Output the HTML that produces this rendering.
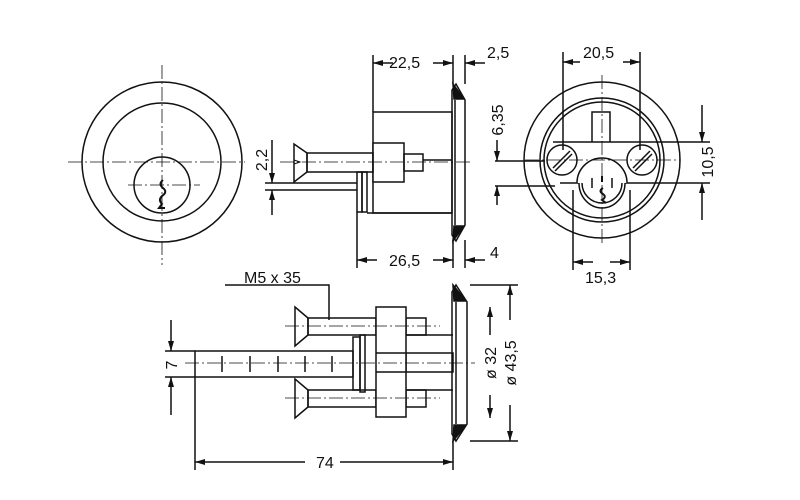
<!DOCTYPE html>
<html><head><meta charset="utf-8"><style>
html,body{margin:0;padding:0;background:#fff;}
svg{display:block;}
text{font-family:"Liberation Sans",sans-serif;font-size:16px;fill:#111;}
</style></head><body>
<svg width="800" height="500" viewBox="0 0 800 500" xmlns="http://www.w3.org/2000/svg">
<defs>
<marker id="a" viewBox="0 0 10 6" refX="10" refY="3" markerWidth="10" markerHeight="6" orient="auto-start-reverse" markerUnits="userSpaceOnUse"><path d="M0,0 L10,3 L0,6z" fill="#111"/></marker>
</defs>
<g stroke="#111" stroke-width="1.5" fill="none">
<!-- LEFT VIEW -->
<circle cx="162" cy="162" r="80"/>
<circle cx="162" cy="162" r="59"/>
<circle cx="162" cy="185" r="28"/>
<g stroke-width="0.8" stroke-dasharray="14,3,2,3">
<line x1="162" y1="65" x2="162" y2="265"/>
<line x1="68" y1="162" x2="245" y2="162"/>
<line x1="128" y1="185" x2="200" y2="185"/>
</g>
<path d="M163,180 q-5,4 0,8 q5,4 -1,8 q-4,4 0,8 l-3,4 l6,0" stroke-width="2"/>
<!-- 2,2 dim -->
<line x1="272" y1="140" x2="272" y2="183" marker-end="url(#a)"/>
<line x1="272" y1="215" x2="272" y2="190" marker-end="url(#a)"/>
<line x1="265" y1="183" x2="357" y2="183"/>
<line x1="265" y1="190" x2="357" y2="190"/>
<!-- MIDDLE TOP VIEW -->
<rect x="373" y="112" width="79" height="101"/>
<rect x="373" y="143" width="31" height="39" fill="#fff"/>
<rect x="404" y="154" width="19" height="17"/>
<line x1="423" y1="160" x2="452" y2="160"/>
<path d="M452,90 L456,84 L465,100 L465,225 L456,241 L452,235 Z"/>
<line x1="455" y1="100" x2="455" y2="225"/>
<path d="M453,84 L464,99 L454,99 Z M453,241 L464,226 L454,226 Z" fill="#111"/>
<!-- screw -->
<path d="M294,144 L307,153 L307,172 L294,182 Z"/>
<path d="M294,160 L300,162 L294,164" stroke-width="1"/>
<rect x="307" y="153" width="66" height="19"/>
<rect x="357" y="172" width="5" height="40"/>
<rect x="362" y="172" width="5" height="40"/>
<line x1="367" y1="213" x2="452" y2="213"/>
<line x1="280" y1="162" x2="470" y2="162" stroke-width="0.8" stroke-dasharray="14,3,2,3"/>
<!-- dims top -->
<line x1="373" y1="112" x2="373" y2="55"/>
<line x1="453" y1="84" x2="453" y2="55"/>
<line x1="465" y1="84" x2="465" y2="55"/>
<line x1="393" y1="63" x2="373" y2="63" marker-end="url(#a)"/>
<line x1="433" y1="63" x2="453" y2="63" marker-end="url(#a)"/>
<line x1="485" y1="63" x2="465" y2="63" marker-end="url(#a)"/>
<line x1="357" y1="212" x2="357" y2="268"/>
<line x1="453" y1="240" x2="453" y2="268"/>
<line x1="465" y1="240" x2="465" y2="268"/>
<line x1="377" y1="260" x2="357" y2="260" marker-end="url(#a)"/>
<line x1="433" y1="260" x2="453" y2="260" marker-end="url(#a)"/>
<line x1="485" y1="260" x2="465" y2="260" marker-end="url(#a)"/>
<!-- 6,35 -->
<line x1="497" y1="140" x2="497" y2="161" marker-end="url(#a)"/>
<line x1="497" y1="205" x2="497" y2="186" marker-end="url(#a)"/>
<line x1="495" y1="161" x2="545" y2="161"/>
<line x1="495" y1="186" x2="555" y2="186"/>
<!-- RIGHT VIEW -->
<circle cx="602" cy="160" r="78"/>
<circle cx="602" cy="160" r="62"/>
<circle cx="602" cy="160" r="58"/>
<path d="M592,142 L592,112 L610,112 L610,142"/>
<line x1="553" y1="142" x2="710" y2="142"/>
<line x1="560" y1="183" x2="710" y2="183"/>
<circle cx="562" cy="160" r="15" fill="#fff"/>
<circle cx="642" cy="160" r="15" fill="#fff"/>
<path d="M553,168 L570,151 M555,171 L572,154 M633,168 L650,151 M635,171 L652,154" stroke-width="1.5"/>
<path d="M577,183 A25,25 0 0 1 627,183 M579,183 A23,25 0 0 0 625,183" fill="#fff"/>
<path d="M582,183 A20,20 0 0 0 622,183" />
<line x1="592" y1="178" x2="592" y2="188"/><line x1="612" y1="178" x2="612" y2="188"/>
<path d="M602,176 v6 M603,188 q-5,3 0,6 q4,3 -1,6 l4,3" stroke-width="2"/>
<g stroke-width="0.8" stroke-dasharray="14,3,2,3">
<line x1="602" y1="75" x2="602" y2="245"/>
<line x1="525" y1="160" x2="680" y2="160"/>
</g>
<!-- 20,5 -->
<line x1="563" y1="150" x2="563" y2="52"/>
<line x1="640" y1="150" x2="640" y2="52"/>
<line x1="580" y1="62" x2="563" y2="62" marker-end="url(#a)"/>
<line x1="623" y1="62" x2="640" y2="62" marker-end="url(#a)"/>
<!-- 10,5 -->
<line x1="702" y1="105" x2="702" y2="142" marker-end="url(#a)"/>
<line x1="702" y1="220" x2="702" y2="183" marker-end="url(#a)"/>
<!-- 15,3 -->
<line x1="573" y1="190" x2="573" y2="270"/>
<line x1="630" y1="190" x2="630" y2="270"/>
<line x1="593" y1="262" x2="573" y2="262" marker-end="url(#a)"/>
<line x1="610" y1="262" x2="630" y2="262" marker-end="url(#a)"/>
<!-- BOTTOM VIEW -->
<path d="M225,285 L329,285 L329,320"/>
<rect x="195" y="351" width="158" height="26"/>
<line x1="222" y1="356" x2="222" y2="372"/><line x1="250" y1="356" x2="250" y2="372"/><line x1="278" y1="356" x2="278" y2="372"/><line x1="305" y1="356" x2="305" y2="372"/><line x1="332" y1="356" x2="332" y2="372"/>
<rect x="406" y="353" width="47" height="19"/>
<line x1="406" y1="335" x2="453" y2="335"/>
<line x1="406" y1="390" x2="453" y2="390"/>
<!-- screws -->
<path d="M295,307 L308,318 L308,335 L295,346 Z"/>
<rect x="308" y="318" width="68" height="17"/>
<rect x="406" y="318" width="20" height="17"/>
<path d="M295,379 L308,390 L308,407 L295,418 Z"/>
<rect x="308" y="390" width="68" height="17"/>
<rect x="406" y="390" width="20" height="17"/>
<rect x="353" y="337" width="7" height="53"/>
<rect x="360" y="335" width="5" height="57"/>
<rect x="376" y="307" width="30" height="110" fill="#fff"/>
<line x1="376" y1="353" x2="406" y2="353"/><line x1="376" y1="372" x2="406" y2="372"/>
<path d="M452,292 L456,285 L467,302 L467,424 L456,441 L452,434 Z"/>
<line x1="456" y1="302" x2="456" y2="424"/>
<path d="M453,285 L466,301 L454,301 Z M453,441 L466,425 L454,425 Z" fill="#111"/>
<g stroke-width="0.8" stroke-dasharray="14,3,2,3">
<line x1="285" y1="326" x2="440" y2="326"/>
<line x1="285" y1="398" x2="440" y2="398"/>
<line x1="185" y1="363" x2="475" y2="363"/>
</g>
<!-- dims bottom -->
<line x1="165" y1="351" x2="195" y2="351"/>
<line x1="165" y1="377" x2="195" y2="377"/>
<line x1="171" y1="320" x2="171" y2="351" marker-end="url(#a)"/>
<line x1="171" y1="415" x2="171" y2="377" marker-end="url(#a)"/>
<line x1="195" y1="377" x2="195" y2="470"/>
<line x1="453" y1="441" x2="453" y2="470"/>
<line x1="305" y1="462" x2="195" y2="462" marker-end="url(#a)"/>
<line x1="340" y1="462" x2="453" y2="462" marker-end="url(#a)"/>
<line x1="470" y1="285" x2="518" y2="285"/>
<line x1="470" y1="441" x2="518" y2="441"/>
<line x1="490" y1="335" x2="490" y2="307" marker-end="url(#a)"/>
<line x1="490" y1="395" x2="490" y2="418" marker-end="url(#a)"/>
<line x1="510" y1="320" x2="510" y2="285" marker-end="url(#a)"/>
<line x1="510" y1="405" x2="510" y2="441" marker-end="url(#a)"/>
</g>
<text x="389" y="68">22,5</text>
<text x="487" y="58">2,5</text>
<text x="389" y="266">26,5</text>
<text x="490" y="258">4</text>
<text x="583" y="58">20,5</text>
<text x="585" y="283">15,3</text>
<text x="244" y="283">M5 x 35</text>
<text x="316" y="468">74</text>
<text transform="translate(267,160) rotate(-90)" text-anchor="middle">2,2</text>
<text transform="translate(503,120) rotate(-90)" text-anchor="middle">6,35</text>
<text transform="translate(713,162) rotate(-90)" text-anchor="middle">10,5</text>
<text transform="translate(177,365) rotate(-90)" text-anchor="middle">7</text>
<text transform="translate(496,363) rotate(-90)" text-anchor="middle">ø 32</text>
<text transform="translate(516,363) rotate(-90)" text-anchor="middle">ø 43,5</text>
</svg>
</body></html>
